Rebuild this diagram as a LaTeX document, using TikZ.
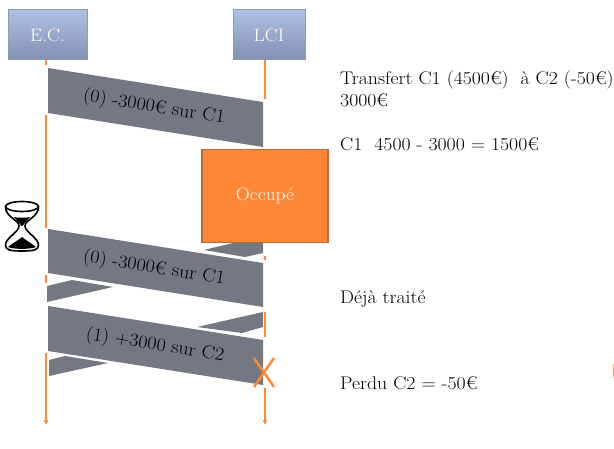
\documentclass[tikz,border=0pt]{standalone}
\usepackage{tikz}
\usepackage{fontspec}
\setmainfont{Latin Modern Roman}[FakeStretch=1.08]
\usetikzlibrary{arrows.meta}
\definecolor{lineorange}{HTML}{FF8837}
\definecolor{busyedge}{HTML}{BE662B}
\definecolor{msggray}{HTML}{747882}
\definecolor{actortop}{HTML}{AEC0E2}
\definecolor{actorbottom}{HTML}{8090B2}
\definecolor{actoredge}{HTML}{8E9AB4}
\tikzset{
  actor/.style={draw=actoredge,line width=1pt,top color=actortop,bottom color=actorbottom,
    text=white,minimum height=50pt,inner sep=0pt,font=\fontsize{18}{22}\selectfont},
  lifeline/.style={draw=lineorange,line width=1.3pt},
  lifeend/.style={lifeline,-{Latex[length=4.5pt,width=5pt]}},
  msg/.style={fill=msggray},
  msgtext/.style={font=\fontsize{18.5}{22}\selectfont,rotate=-9},
  note/.style={anchor=base west,inner sep=0pt,font=\fontsize{18.3}{22}\selectfont,align=left}
}
\begin{document}
\begin{tikzpicture}[x=1pt,y=-1pt]
\useasboundingbox (0,0) rectangle (614,449);
\node[actor,minimum width=79pt] (ec) at (47.5,35) {E.C.};
\node[actor,minimum width=72pt] (lci) at (269,35) {LCI};
% lifelines, cut where the messages pass
\foreach \n/\x/\a/\b in {l1/46/60/65,l2/46/115/228,l3/46/275/283,r1/265/60/99,r2/265/256/260,r3/265/312/337} {
  \coordinate (\n a) at (\x,\a);
  \coordinate (\n b) at (\x,\b);
  \draw[lifeline] (\n a) -- (\n b);
}
\coordinate (l4a) at (46,353);
\coordinate (l4b) at (46,425);
\coordinate (r4a) at (265,388);
\coordinate (r4b) at (265,425);
\draw[lifeend] (l4a) -- (l4b);
\draw[lifeend] (r4a) -- (r4b);
% replies, hidden by what is on top of them
\fill[msg] (204,250) -- (233,243) -- (263,243) -- (263,253) -- (245,257) -- cycle;
\fill[msg] (47,286) -- (72,280) -- (113,287) -- (47,302) -- cycle;
\fill[msg] (197,327) -- (263,312) -- (263,327) -- (242,333) -- cycle;
\fill[msg] (49,360) -- (65,356) -- (108,363) -- (49,376) -- cycle;
% messages
\fill[msg] (48,68) -- (263,102) -- (263,147) -- (48,113) -- cycle;
\fill[msg] (48,229) -- (263,263) -- (263,307) -- (48,273) -- cycle;
\fill[msg] (48,306) -- (263,340) -- (263,385) -- (48,351) -- cycle;
\node[msgtext] (m1) at (154,107.5) {(0) -3000€ sur C1};
\node[msgtext] (m2) at (154,268.5) {(0) -3000€ sur C1};
\node[msgtext] (m3) at (155,345.5) {(1) +3000 sur C2};
% busy
\node[draw=busyedge,fill=lineorange,line width=1.2pt,minimum width=126pt,minimum height=93pt,inner sep=0pt,
  text=white,font=\fontsize{18}{22}\selectfont] (busy) at (265,196) {Occupé};
% lost
\draw[draw=lineorange,line width=2.5pt] (254,358) -- (274,387);
\draw[draw=lineorange,line width=2.5pt] (274,358) -- (254,387);
% hourglass
\draw[fill=white,line width=1.6pt] (5.5,207) .. controls (5.5,217) and (19,220) .. (19,226)
  .. controls (19,232) and (5.5,238) .. (5.5,245) .. controls (5.5,250) and (10,251) .. (22,251)
  .. controls (34,251) and (38.5,250) .. (38.5,245) .. controls (38.5,238) and (25,232) .. (25,226)
  .. controls (25,220) and (38.5,217) .. (38.5,207);
\draw[fill=white,line width=1.6pt] (22,206.5) ellipse (16.5 and 5);
\fill (14,217) .. controls (18,218) and (26,218) .. (30,217) -- (22.5,226) -- (21.5,226) -- cycle;
\fill (8,247) .. controls (14,242) and (19,240) .. (22,237) .. controls (25,240) and (30,242) .. (36,247)
  .. controls (30,249.5) and (14,249.5) .. (8,247) -- cycle;
% notes
\node[note] (t1) at (340,85) {Transfert C1 (4500€)\ \ à C2 (-50€)};
\node[note] (t2) at (340,107) {3000€};
\node[note] (t3) at (340,150.5) {C1\ \ 4500 - 3000 = 1500€};
\node[note] (t4) at (340,304) {Déjà traité};
\node[note] (t5) at (340,390) {Perdu C2 = -50€};
\fill[lineorange!70] (613,364) rectangle (614,378);
\end{tikzpicture}
\end{document}
